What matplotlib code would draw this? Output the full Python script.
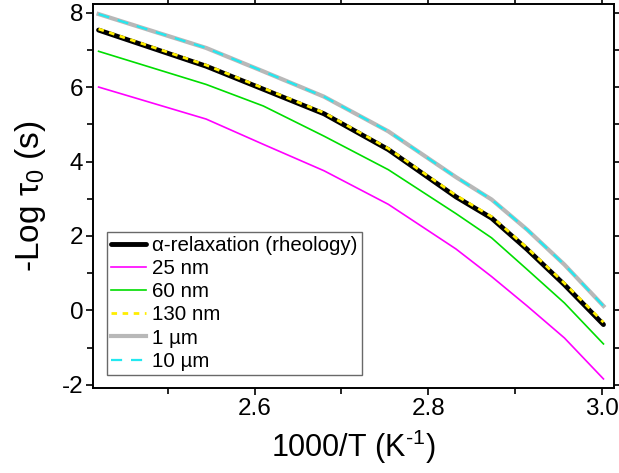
import numpy as np
import matplotlib.pyplot as plt

# 1000/T positions of the curve vertices
inv_T = [2.420, 2.544, 2.610, 2.680, 2.754, 2.832, 2.873, 2.914, 2.957, 3.002]

# -Log tau0 values
rheology = [7.53, 6.56, 5.94, 5.28, 4.32, 3.05, 2.48, 1.64, 0.69, -0.38]
nm25 = [6.00, 5.14, 4.46, 3.75, 2.85, 1.65, 0.91, 0.12, -0.74, -1.84]
nm60 = [6.96, 6.07, 5.49, 4.68, 3.78, 2.60, 1.95, 1.10, 0.20, -0.90]
nm130 = [7.56, 6.59, 5.97, 5.31, 4.35, 3.09, 2.52, 1.68, 0.73, -0.32]
um1 = [7.96, 7.05, 6.42, 5.74, 4.81, 3.58, 2.98, 2.17, 1.23, 0.12]
um10 = [7.96, 7.05, 6.42, 5.74, 4.81, 3.58, 2.98, 2.17, 1.23, 0.12]

plt.rcParams['font.family'] = ['Liberation Sans', 'DejaVu Sans']
plt.rcParams['mathtext.fontset'] = 'custom'
plt.rcParams['mathtext.rm'] = 'Liberation Sans'
plt.rcParams['mathtext.it'] = 'Liberation Sans:italic'
plt.rcParams['axes.unicode_minus'] = False

fig = plt.figure(figsize=(6.19, 4.73), dpi=100)
ax = fig.add_axes([0.150, 0.180, 0.842, 0.8115])

ax.plot(inv_T, rheology, color='black', lw=3.5, solid_capstyle='round',
        label='\u03b1-relaxation (rheology)')
ax.plot(inv_T, nm25, color='#ff00ff', lw=1.2, label='25 nm')
ax.plot(inv_T, nm60, color='#00dd00', lw=1.2, label='60 nm')
ax.plot(inv_T, nm130, color='#ffee00', lw=2.0, ls=(0, (2, 2)), label='130 nm')
ax.plot(inv_T, um1, color='#b8b8b8', lw=3.0, label='1 \u00b5m')
ax.plot(inv_T, um10, color='#22e8f0', lw=1.6, ls=(0, (5, 4)), label='10 \u00b5m')

ax.set_xlim(2.4134, 3.0142)
ax.set_ylim(-2.08, 8.23)
ax.set_xticks([2.6, 2.8, 3.0])
ax.set_xticks([2.5, 2.7, 2.9], minor=True)
ax.set_yticks([-2, 0, 2, 4, 6, 8])
ax.set_yticks([-1, 1, 3, 5, 7], minor=True)
ax.tick_params(which='both', direction='out', top=True, right=True,
               labelsize=17.5, width=1.2, pad=2)
ax.tick_params(which='major', length=5)
ax.tick_params(which='minor', length=4)
for s in ax.spines.values():
    s.set_linewidth(1.4)

ax.set_xlabel('1000/T (K$^{\\text{-1}}$)', fontsize=22, labelpad=6)
ax.set_ylabel('-Log \u03c4$_0$ (s)', fontsize=24, labelpad=10)

leg = ax.legend(loc='lower left', bbox_to_anchor=(0.027, 0.034), fontsize=14.8,
                frameon=True, fancybox=False, edgecolor='#444444',
                handlelength=1.7, handletextpad=0.3, labelspacing=0.2,
                borderpad=0.2, borderaxespad=0)
leg.get_frame().set_linewidth(1.0)

fig.savefig('out.png', dpi=100)
